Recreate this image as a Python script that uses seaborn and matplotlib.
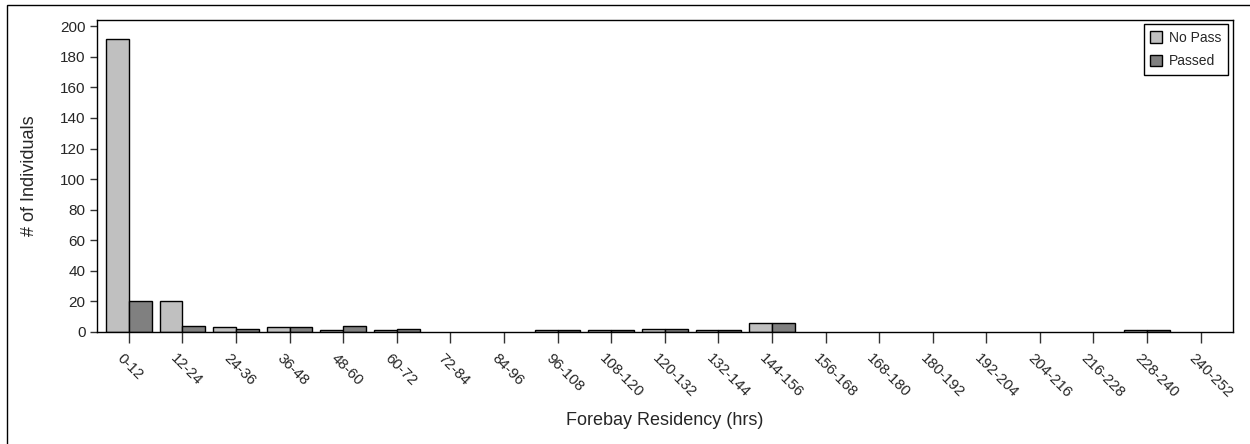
import seaborn as sns
import pandas as pd
import matplotlib.pyplot as plt
import matplotlib.transforms as mtransforms
from matplotlib.patches import Rectangle

# bins of forebay residency (hrs)
bins = ["0-12", "12-24", "24-36", "36-48", "48-60", "60-72", "72-84", "84-96",
        "96-108", "108-120", "120-132", "132-144", "144-156", "156-168", "168-180",
        "180-192", "192-204", "204-216", "216-228", "228-240", "240-252"]
no_pass = [192, 20, 3, 3, 1, 1, 0, 0, 1, 1, 2, 1, 6, 0, 0, 0, 0, 0, 0, 1, 0]
passed = [20, 4, 2, 3, 4, 2, 0, 0, 1, 1, 2, 1, 6, 0, 0, 0, 0, 0, 0, 1, 0]
groups = ["No Pass", "Passed"]
colors = ["#c0c0c0", "#808080"]

df = pd.DataFrame({
    "bin": bins * 2,
    "count": no_pass + passed,
    "group": [groups[0]] * len(bins) + [groups[1]] * len(bins),
})

sns.set_style("white")
plt.rcParams["font.family"] = ["Liberation Sans", "DejaVu Sans"]

fig = plt.figure(figsize=(12.5, 4.44), dpi=100)
ax = fig.add_axes([0.0774, 0.2529, 0.9088, 0.7031])

sns.barplot(data=df, x="bin", y="count", hue="group", order=bins, hue_order=groups,
            palette=colors, width=0.85, edgecolor="black", linewidth=1,
            saturation=1, ax=ax)

# empty bins show no bar at all
for cont in ax.containers:
    for p in cont:
        if p.get_height() == 0:
            p.set_linewidth(0)

ax.set_xlim(-0.6, len(bins) - 0.4)
ax.set_ylim(0, 204.5)
ax.set_yticks(range(0, 201, 20))
ax.tick_params(axis="y", direction="out", length=5, width=1, color="#333333",
               labelsize=11, left=True, pad=3)
ax.tick_params(axis="x", direction="out", length=8, width=1, color="#333333",
               labelsize=10.8, bottom=True, pad=6)
shift = mtransforms.ScaledTranslation(-5 / 100, 0, fig.dpi_scale_trans)
for lab in ax.get_xticklabels():
    lab.set_rotation(-45)
    lab.set_ha("left")
    lab.set_va("top")
    lab.set_rotation_mode("anchor")
    lab.set_transform(lab.get_transform() + shift)

for s in ax.spines.values():
    s.set_visible(True)
    s.set_color("black")
    s.set_linewidth(1)

ax.set_xlabel("Forebay Residency (hrs)", fontsize=13)
ax.set_ylabel("# of Individuals", fontsize=13)
ax.xaxis.set_label_coords(0.5, -0.257)
ax.yaxis.set_label_coords(-0.052, 0.5)

leg = ax.legend(loc="upper right", fontsize=10, frameon=True, fancybox=False,
                edgecolor="black", handlelength=0.9, handleheight=0.9,
                handletextpad=0.5, borderpad=0.45, labelspacing=0.7,
                borderaxespad=0.35)
leg.get_frame().set_linewidth(1)
leg.get_frame().set_alpha(1)
for h in leg.legend_handles:
    h.set_edgecolor("black")
    h.set_linewidth(1)

# outer frame of the figure (cut off at right and bottom)
fig.patches.append(Rectangle((7 / 1250, -0.2), 1.2, 1.2 - 5 / 444, fill=False,
                             edgecolor="black", linewidth=1,
                             transform=fig.transFigure, figure=fig))

plt.savefig("out.png", dpi=100)
plt.close()
